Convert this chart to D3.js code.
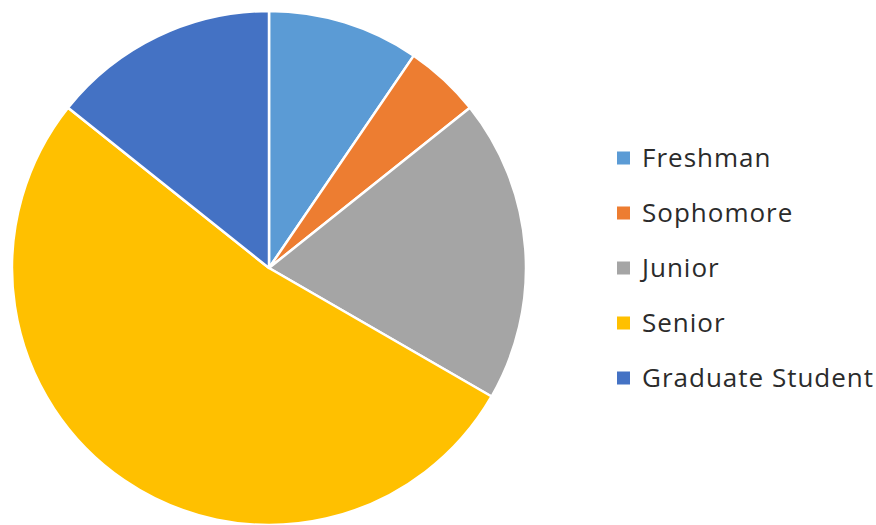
<!DOCTYPE html>
<html>
<head>
<meta charset="utf-8">
<script src="https://cdn.jsdelivr.net/npm/d3@7"></script>
<style>
  html, body { margin: 0; padding: 0; background: #fff; }
  svg { display: block; }
</style>
</head>
<body>
<svg id="chart" width="876" height="525"></svg>
<script>
// Class standing of respondents
const categories = ["Freshman", "Sophomore", "Junior", "Senior", "Graduate Student"];
const counts = [2, 1, 4, 11, 3];
const colors = ["#5B9BD5", "#ED7D31", "#A5A5A5", "#FFC000", "#4472C4"];

const svg = d3.select("#chart");
const cx = 269, cy = 268, radius = 257;

const data = categories.map((c, i) => ({ name: c, value: counts[i], color: colors[i] }));

const pie = d3.pie().value(d => d.value).sort(null);
const arc = d3.arc().innerRadius(0).outerRadius(radius);

svg.append("g")
  .attr("transform", `translate(${cx},${cy})`)
  .selectAll("path")
  .data(pie(data))
  .join("path")
  .attr("d", arc)
  .attr("fill", d => d.data.color)
  .attr("stroke", "#fff")
  .attr("stroke-width", 2.5)
  .attr("stroke-linejoin", "round");

// Legend
const legendY = d3.scalePoint().domain(categories).range([158, 378]);
const legend = svg.append("g")
  .selectAll("g")
  .data(data)
  .join("g")
  .attr("transform", d => `translate(617,${legendY(d.name)})`);

legend.append("rect")
  .attr("x", 0).attr("y", -6.5)
  .attr("width", 13).attr("height", 13)
  .attr("fill", d => d.color);

legend.append("text")
  .attr("x", 25)
  .attr("y", 0)
  .attr("dy", "0.36em")
  .attr("font-family", "'Open Sans', sans-serif")
  .attr("font-size", 26)
  .attr("letter-spacing", 1)
  .attr("fill", "#2b2b2b")
  .text(d => d.name);
</script>
</body>
</html>
